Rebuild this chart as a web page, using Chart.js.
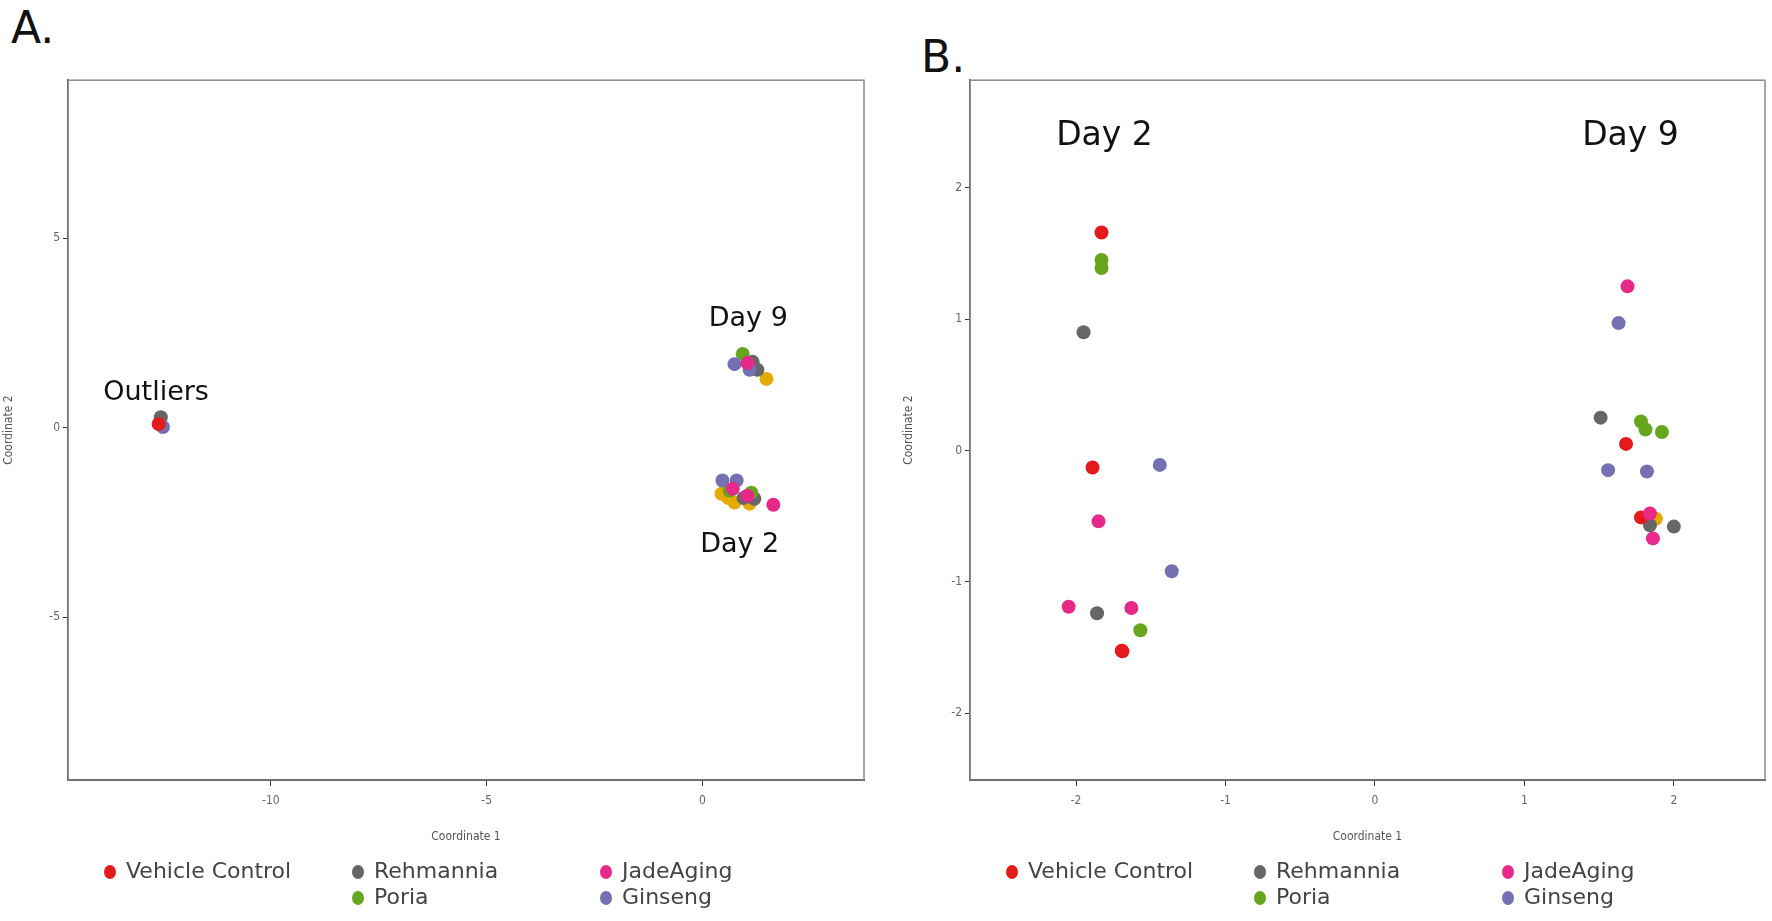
<!DOCTYPE html>
<html>
<head>
<meta charset="utf-8">
<script src="https://cdn.jsdelivr.net/npm/chart.js@4"></script>
<style>
  body { margin: 0; background: #fff; width: 1772px; height: 921px; position: relative; overflow: hidden; font-family: "DejaVu Sans", sans-serif; }
  .panel-label { position: absolute; font-size: 44px; color: #111; line-height: 1; }
  .chart-box { position: absolute; }
  .legend-item { position: absolute; font-size: 22px; color: #444; white-space: nowrap; line-height: 1; }
  .legend-item .dot { display: inline-block; width: 12px; height: 14px; border-radius: 50%; margin-right: 10px; vertical-align: -1px; }
</style>
</head>
<body>
<div class="panel-label" style="left:11px; top:6px;">A.</div>
<div class="panel-label" style="left:921px; top:35px;">B.</div>
<div class="chart-box" style="left:0; top:70px;"><canvas id="chartA" width="875" height="800"></canvas></div>
<div class="chart-box" style="left:900px; top:70px;"><canvas id="chartB" width="872" height="800"></canvas></div>
<div id="legendA"></div>
<div id="legendB"></div>
<script>
// groups and colours
const groups = ["Vehicle Control", "Rehmannia", "Poria", "JadeAging", "Ginseng", "Other"];
const groupColors = ["#e41a1c", "#666666", "#66a61e", "#e7298a", "#7570b3", "#e6ab02"];
// draw order (lower = on top)
const groupOrder = [1, 4, 3, 0, 2, 5];

// panel A points
const vehicleA_x = [-12.60];
const vehicleA_y = [0.10];
const rehmanniaA_x = [-12.55, 1.16, 1.27, 1.20, 0.95];
const rehmanniaA_y = [0.28, 1.74, 1.53, -1.87, -1.85];
const poriaA_x = [0.93, 0.63, 1.13];
const poriaA_y = [1.95, -1.66, -1.71];
const jadeA_x = [1.04, 0.70, 1.04, 1.64];
const jadeA_y = [1.71, -1.61, -1.79, -2.03];
const ginsengA_x = [-12.50, 0.74, 1.09, 0.46, 0.79];
const ginsengA_y = [0.02, 1.68, 1.53, -1.39, -1.39];
const otherA_x = [1.48, 0.44, 0.74, 1.09, 0.60];
const otherA_y = [1.29, -1.74, -1.97, -2.00, -1.85];

// panel B points
const vehicleB_x = [-1.83, -1.89, -1.69, -1.695, 1.68, 1.78];
const vehicleB_y = [1.66, -0.13, -1.53, -1.525, 0.05, -0.51];
const rehmanniaB_x = [-1.95, -1.86, 1.51, 1.84, 2.00];
const rehmanniaB_y = [0.90, -1.24, 0.25, -0.57, -0.58];
const poriaB_x = [-1.83, -1.83, -1.57, 1.78, 1.81, 1.92];
const poriaB_y = [1.45, 1.39, -1.37, 0.22, 0.16, 0.14];
const jadeB_x = [-1.85, -2.05, -1.63, 1.69, 1.84, 1.86];
const jadeB_y = [-0.54, -1.19, -1.20, 1.25, -0.48, -0.67];
const ginsengB_x = [-1.44, -1.36, 1.63, 1.56, 1.82];
const ginsengB_y = [-0.11, -0.92, 0.97, -0.15, -0.16];
const otherB_x = [1.88];
const otherB_y = [-0.52];

// axis ranges and ticks
const xRangeA = [-14.7, 3.74];
const yRangeA = [-9.29, 9.17];
const xTicksA = [-10, -5, 0];
const yTicksA = [-5, 0, 5];
const xRangeB = [-2.71, 2.61];
const yRangeB = [-2.51, 2.82];
const xTicksB = [-2, -1, 0, 1, 2];
const yTicksB = [-2, -1, 0, 1, 2];

// cluster annotations
const notesA = ["Outliers", "Day 9", "Day 2"];
const notesA_x = [-12.66, 1.06, 0.86];
const notesA_y = [0.92, 2.87, -3.08];
const notesB = ["Day 2", "Day 9"];
const notesB_x = [-1.81, 1.71];
const notesB_y = [2.39, 2.39];

function zip(xs, ys) {
  return xs.map((x, i) => ({ x: x, y: ys[i] }));
}

function makeDatasets(xsList, ysList) {
  return groups.map((name, i) => ({
    label: name,
    data: zip(xsList[i], ysList[i]),
    backgroundColor: groupColors[i],
    borderColor: groupColors[i],
    borderWidth: 0,
    pointRadius: 7,
    order: groupOrder[i],
  }));
}

const frame = {
  id: "frame",
  beforeDatasetsDraw(chart) {
    const a = chart.chartArea;
    const ctx = chart.ctx;
    ctx.save();
    ctx.strokeStyle = "#8a8a8a";
    ctx.lineWidth = 1.5;
    ctx.strokeRect(a.left, a.top, a.right - a.left, a.bottom - a.top);
    ctx.restore();
  },
};

const notes = {
  id: "notes",
  afterDatasetsDraw(chart, args, opts) {
    const ctx = chart.ctx;
    const xs = chart.scales.x;
    const ys = chart.scales.y;
    ctx.save();
    ctx.fillStyle = "#111";
    ctx.font = opts.size + 'px "DejaVu Sans"';
    ctx.textAlign = "center";
    ctx.textBaseline = "middle";
    opts.text.forEach((t, i) => {
      ctx.fillText(t, xs.getPixelForValue(opts.x[i]), ys.getPixelForValue(opts.y[i]));
    });
    ctx.restore();
  },
};

function makeConfig(datasets, xr, yr, xt, yt, yWidth, pad, noteOpts) {
  const tickFont = { family: '"DejaVu Sans Condensed", "DejaVu Sans"', size: 12 };
  return {
    type: "scatter",
    data: { datasets: datasets },
    plugins: [frame, notes],
    options: {
      responsive: false,
      animation: false,
      devicePixelRatio: 1,
      layout: { padding: pad },
      scales: {
        x: {
          type: "linear",
          min: xr[0],
          max: xr[1],
          afterBuildTicks: (s) => { s.ticks = xt.map((v) => ({ value: v })); },
          afterFit: (s) => { s.height = 68; },
          grid: { drawOnChartArea: false, drawTicks: true, tickLength: 6, color: "#333" },
          border: { display: true, color: "#222", width: 2 },
          ticks: { color: "#666", font: tickFont, padding: 8 },
          title: { display: true, text: "Coordinate 1", color: "#555", font: tickFont, padding: { top: 4, bottom: 4 } },
        },
        y: {
          type: "linear",
          min: yr[0],
          max: yr[1],
          afterBuildTicks: (s) => { s.ticks = yt.map((v) => ({ value: v })); },
          afterFit: (s) => { s.width = yWidth; },
          grid: { drawOnChartArea: false, drawTicks: true, tickLength: 5, color: "#333" },
          border: { display: true, color: "#333", width: 1.5 },
          ticks: { color: "#666", font: tickFont, padding: 3 },
          title: { display: true, text: "Coordinate 2", color: "#555", font: tickFont, padding: { top: 2, bottom: 0 } },
        },
      },
      plugins: {
        legend: { display: false },
        tooltip: { enabled: false },
        notes: noteOpts,
      },
    },
  };
}

const chartA = new Chart(
  document.getElementById("chartA"),
  makeConfig(
    makeDatasets(
      [vehicleA_x, rehmanniaA_x, poriaA_x, jadeA_x, ginsengA_x, otherA_x],
      [vehicleA_y, rehmanniaA_y, poriaA_y, jadeA_y, ginsengA_y, otherA_y]
    ),
    xRangeA, yRangeA, xTicksA, yTicksA, 68,
    { left: 0, right: 11, top: 9, bottom: 22 },
    { text: notesA, x: notesA_x, y: notesA_y, size: 27 }
  )
);

const chartB = new Chart(
  document.getElementById("chartB"),
  makeConfig(
    makeDatasets(
      [vehicleB_x, rehmanniaB_x, poriaB_x, jadeB_x, ginsengB_x, otherB_x],
      [vehicleB_y, rehmanniaB_y, poriaB_y, jadeB_y, ginsengB_y, otherB_y]
    ),
    xRangeB, yRangeB, xTicksB, yTicksB, 70,
    { left: 0, right: 4, top: 9, bottom: 22 },
    { text: notesB, x: notesB_x, y: notesB_y, size: 33 }
  )
);

// legend: the five named groups in three columns
const legendSlots = [[0, 0], [1, 0], [3, 0], [2, 1], [4, 1]];
function buildLegend(el, left, colStep) {
  legendSlots.forEach(([g, row], k) => {
    const col = k === 0 ? 0 : (g === 1 || g === 2 ? 1 : 2);
    const item = document.createElement("div");
    item.className = "legend-item";
    item.style.left = (left + col * colStep) + "px";
    item.style.top = (860 + row * 26) + "px";
    item.innerHTML = '<span class="dot" style="background:' + groupColors[g] + '"></span>' + groups[g];
    el.appendChild(item);
  });
}
buildLegend(document.getElementById("legendA"), 104, 248);
buildLegend(document.getElementById("legendB"), 1006, 248);
</script>
</body>
</html>
